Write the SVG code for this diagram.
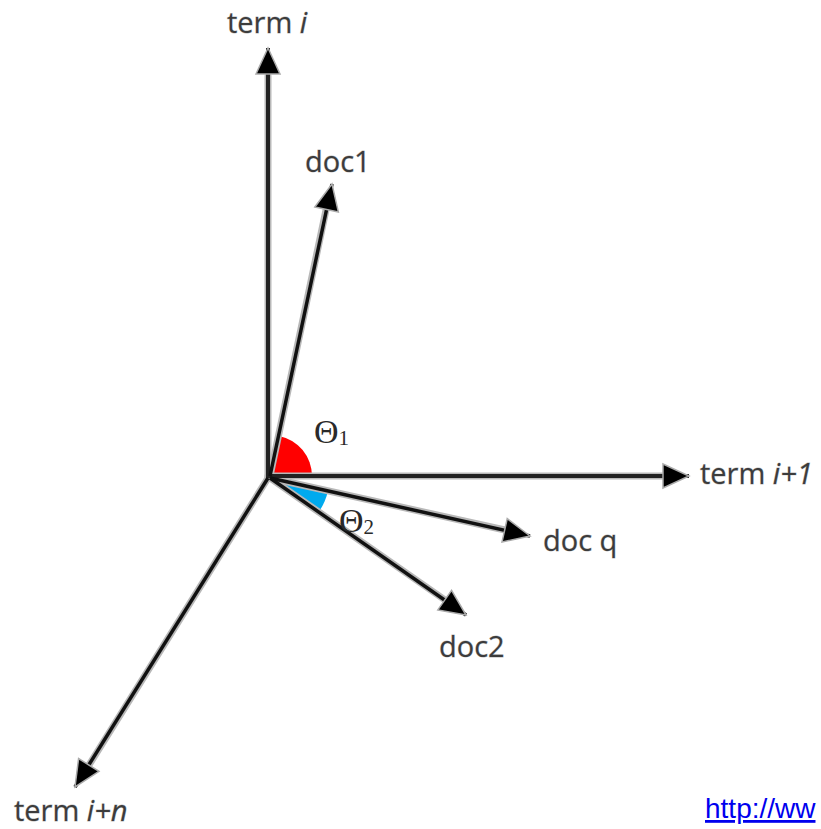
<svg xmlns="http://www.w3.org/2000/svg" width="821" height="829" viewBox="0 0 821 829">
<style>
.lbl{font-family:"Open Sans","Liberation Sans",sans-serif;font-size:29px;fill:#3c3c3c;stroke:#bdbdbd;stroke-width:0.8px;paint-order:stroke}
.th{font-family:"Liberation Serif","DejaVu Serif",serif;font-size:34px;fill:#2a2a2a}
.halo{stroke:#b8b8b8;stroke-width:7;fill:none;stroke-linecap:round}
.ax{stroke:#222;stroke-width:4;fill:none}
.vec{stroke:#111;stroke-width:3.5;fill:none}
.url{font-family:"Liberation Sans",Arial,sans-serif;font-size:28px;fill:#0000ee;text-decoration:underline}
</style>
<defs>
<marker id="ah" viewBox="-2 -2 30 28" markerWidth="30" markerHeight="28" refX="26" refY="12" orient="auto" markerUnits="userSpaceOnUse">
<path d="M0,0 L26,12 L0,24 Z" fill="#000" stroke="#aaa" stroke-width="1.5" stroke-linejoin="miter"/>
</marker>
</defs>
<g id="angles">
<path d="M271,476 L279,436 A41,41 0 0 1 312,476 Z" fill="#ff0000"/>
<path d="M270,478 L328,491 A59,59 0 0 1 320,510 Z" fill="#00aaee"/>
</g>
<g id="connectors">
<line class="halo" x1="268" y1="478" x2="268" y2="76"/>
<line class="halo" x1="268" y1="476" x2="664" y2="476"/>
<line class="halo" x1="270" y1="476" x2="326" y2="210"/>
<line class="halo" x1="270" y1="478" x2="505" y2="530"/>
<line class="halo" x1="270" y1="478" x2="445" y2="600"/>
<line class="halo" x1="268" y1="478" x2="89" y2="765"/>
<line class="ax" x1="268" y1="478" x2="268" y2="48" marker-end="url(#ah)"/>
<line class="ax" x1="268" y1="476" x2="689" y2="476" marker-end="url(#ah)"/>
<line class="vec" x1="270" y1="476" x2="332" y2="184" marker-end="url(#ah)"/>
<line class="vec" x1="270" y1="478" x2="530" y2="536" marker-end="url(#ah)"/>
<line class="vec" x1="270" y1="478" x2="466" y2="615" marker-end="url(#ah)"/>
<line class="vec" x1="268" y1="478" x2="75" y2="787" marker-end="url(#ah)"/>
</g>
<g id="term-i"><text class="lbl" x="227" y="33">term <tspan font-style="italic">i</tspan></text></g>
<g id="doc1"><text class="lbl" x="305" y="172">doc1</text></g>
<g id="theta1"><text class="th" x="314" y="443">Θ<tspan font-size="21" dy="2">1</tspan></text></g>
<g id="term-i1"><text class="lbl" x="700" y="484">term <tspan font-style="italic">i+1</tspan></text></g>
<g id="theta2"><text class="th" x="339" y="532">Θ<tspan font-size="21" dy="2">2</tspan></text></g>
<g id="docq"><text class="lbl" x="543" y="551">doc q</text></g>
<g id="doc2"><text class="lbl" x="439" y="657">doc2</text></g>
<g id="term-in"><text class="lbl" x="14" y="821">term <tspan font-style="italic">i+n</tspan></text></g>
<g id="url"><text class="url" x="705" y="818">http://ww</text></g>
</svg>
